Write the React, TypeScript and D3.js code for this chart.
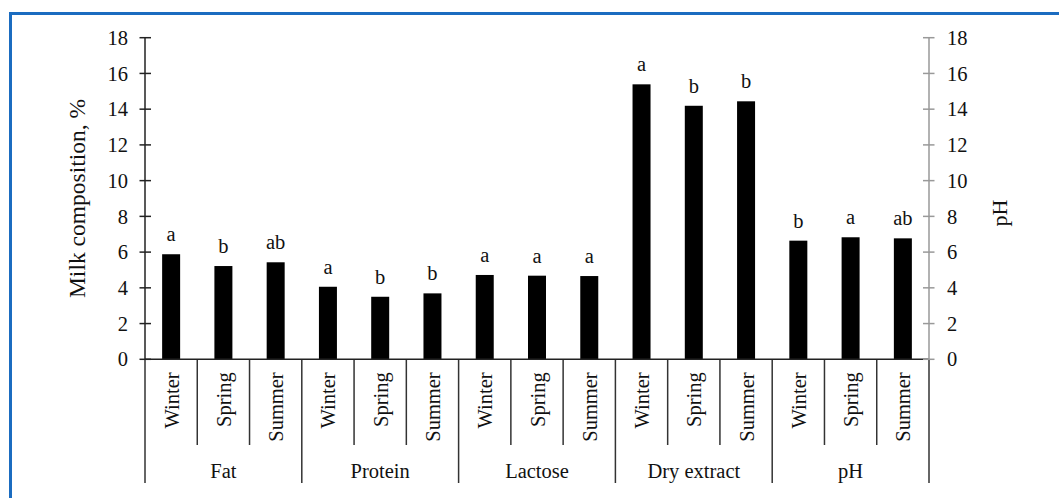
import { useEffect, useRef } from 'react';
import * as d3 from 'd3';

const groups = ['Fat', 'Protein', 'Lactose', 'Dry extract', 'pH'];
const seasons = ['Winter', 'Spring', 'Summer'];
const values = [
  [5.88, 5.22, 5.43],
  [4.06, 3.5, 3.69],
  [4.72, 4.68, 4.66],
  [15.39, 14.19, 14.44],
  [6.64, 6.83, 6.77],
];
const letters = [
  ['a', 'b', 'ab'],
  ['a', 'b', 'b'],
  ['a', 'a', 'a'],
  ['a', 'b', 'b'],
  ['b', 'a', 'ab'],
];
const yTicks = [0, 2, 4, 6, 8, 10, 12, 14, 16, 18];

const W = 1059;
const H = 498;
const FONT = '"Liberation Serif", "Times New Roman", serif';
const FS = 20.5;

export default function App() {
  const svgRef = useRef<SVGSVGElement>(null);

  useEffect(() => {
    document.body.style.margin = '0';
    if (!svgRef.current) return;
    const svg = d3.select(svgRef.current);
    svg.selectAll('*').remove();

    const left = 145;
    const right = 929;
    const top = 37.7;
    const bottom = 359.3;

    // blue frame
    svg.append('rect')
      .attr('x', 10.5).attr('y', 13.5)
      .attr('width', 1100).attr('height', 600)
      .attr('fill', 'none')
      .attr('stroke', '#1b6cc0')
      .attr('stroke-width', 3);

    const keys = groups.flatMap((g, gi) => seasons.map((s, si) => `${gi}-${si}`));
    const x = d3.scaleBand().domain(keys).range([left, right]);
    const y = d3.scaleLinear().domain([0, 18]).range([bottom, top]);
    const bw = 18;

    const g = svg.append('g');

    const txt = (sel: d3.Selection<SVGTextElement, unknown, null, undefined>, size = FS) =>
      sel.attr('font-family', FONT).attr('font-size', size).attr('fill', '#111');

    // bars and letters
    groups.forEach((grp, gi) => {
      seasons.forEach((s, si) => {
        const k = `${gi}-${si}`;
        const cx = (x(k) as number) + x.bandwidth() / 2;
        const v = values[gi][si];
        g.append('rect')
          .attr('x', cx - bw / 2)
          .attr('y', y(v))
          .attr('width', bw)
          .attr('height', y(0) - y(v))
          .attr('fill', '#000');
        txt(g.append('text')
          .attr('x', cx)
          .attr('y', y(v) - 13)
          .attr('text-anchor', 'middle'))
          .text(letters[gi][si]);
        // season label
        txt(g.append('text')
          .attr('transform', `translate(${cx + 7.5},${bottom + 13}) rotate(-90)`)
          .attr('text-anchor', 'end'))
          .text(s);
      });
    });

    // separators below axis
    keys.forEach((k, i) => {
      const xx = x(k) as number;
      const isGroup = i % 3 === 0;
      g.append('line')
        .attr('x1', xx).attr('x2', xx)
        .attr('y1', bottom).attr('y2', isGroup ? 483 : 445)
        .attr('stroke', '#333').attr('stroke-width', 1.5);
    });
    g.append('line')
      .attr('x1', right).attr('x2', right)
      .attr('y1', bottom).attr('y2', 483)
      .attr('stroke', '#333').attr('stroke-width', 1.5);

    groups.forEach((grp, gi) => {
      const x0 = x(`${gi}-0`) as number;
      const x1 = (x(`${gi}-2`) as number) + x.bandwidth();
      txt(g.append('text')
        .attr('x', (x0 + x1) / 2)
        .attr('y', 478)
        .attr('text-anchor', 'middle'))
        .text(grp);
    });

    // x axis line
    g.append('line')
      .attr('x1', left).attr('x2', right)
      .attr('y1', bottom).attr('y2', bottom)
      .attr('stroke', '#222').attr('stroke-width', 1.5);

    // left axis
    g.append('line')
      .attr('x1', left).attr('x2', left)
      .attr('y1', top).attr('y2', bottom)
      .attr('stroke', '#222').attr('stroke-width', 1.5);
    yTicks.forEach(t => {
      g.append('line')
        .attr('x1', left - 5.5).attr('x2', left + 6)
        .attr('y1', y(t)).attr('y2', y(t))
        .attr('stroke', '#222').attr('stroke-width', 1.5);
      txt(g.append('text')
        .attr('x', left - 17)
        .attr('y', y(t))
        .attr('dy', '0.35em')
        .attr('text-anchor', 'end'))
        .text(t);
    });

    // right axis (gray)
    g.append('line')
      .attr('x1', right).attr('x2', right)
      .attr('y1', top).attr('y2', bottom)
      .attr('stroke', '#999').attr('stroke-width', 1.5);
    yTicks.forEach(t => {
      g.append('line')
        .attr('x1', right - 6).attr('x2', right + 5.5)
        .attr('y1', y(t)).attr('y2', y(t))
        .attr('stroke', '#999').attr('stroke-width', 1.5);
      txt(g.append('text')
        .attr('x', right + 18)
        .attr('y', y(t))
        .attr('dy', '0.35em')
        .attr('text-anchor', 'start'))
        .text(t);
    });

    // axis titles
    txt(g.append('text')
      .attr('transform', `translate(85,${(top + bottom) / 2}) rotate(-90)`)
      .attr('text-anchor', 'middle'), 23.5)
      .text('Milk composition, %');
    txt(g.append('text')
      .attr('transform', `translate(1007,213) rotate(-90)`)
      .attr('text-anchor', 'middle'), 22)
      .text('pH');
  }, []);

  return <svg ref={svgRef} width={W} height={H} style={{ display: 'block', background: '#fff' }} />;
}
